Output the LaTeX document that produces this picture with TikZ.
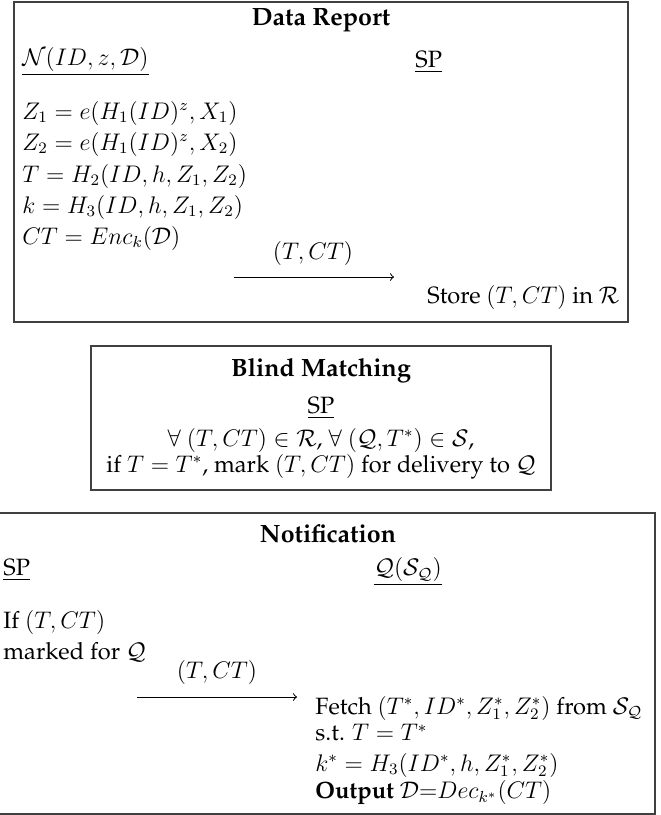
\documentclass[tikz,border=0pt]{standalone}
\usepackage{amsmath}
\usepackage{amssymb}
\usepackage[T1]{fontenc}
\renewcommand{\rmdefault}{ppl}
\usepackage{tikz}
\usetikzlibrary{positioning}
\tikzset{
    every node/.style={inner sep=0pt, font=\fontsize{11.8}{14}\selectfont},
    phase/.style={draw=black!75, line width=0.75pt},
    phasetitle/.style={font=\fontsize{12.5}{15}\selectfont\bfseries},
    msg/.style={->, line width=0.5pt}
}

\begin{document}
\begin{tikzpicture}[x=0.5pt, y=-0.5pt]
                \useasboundingbox (0, 0) rectangle (660, 815);
                \draw [phase] (14, 2) rectangle (628, 322);
                \node [phasetitle] (report) at (321, 20) {Data Report};
                \node [anchor=west] (node) at (22, 62) {$\underline{\mathcal{N}(ID, z, \mathcal{D})}$};
                \node [anchor=west] (sp1) at (415, 62) {\underline{SP}};
                \node [anchor=west] (z1) at (22, 113) {$Z_1 = e(H_1(ID)^z, X_1)$};
                \node [anchor=west] (z2) at (22, 144) {$Z_2 = e(H_1(ID)^z, X_2)$};
                \node [anchor=west] (tag) at (22, 176) {$T = H_2(ID, h, Z_1, Z_2)$};
                \node [anchor=west] (key) at (22, 207) {$k = H_3(ID, h, Z_1, Z_2)$};
                \node [anchor=west] (ct) at (22, 238) {$CT = Enc_k(\mathcal{D})$};
                \coordinate (up1) at (234, 277);
                \coordinate (up2) at (394, 277);
                \draw [msg] (up1) -- (up2);
                \node (uplabel) at (313, 253) {$(T, CT)$};
                \node [anchor=west] (store) at (427, 297) {Store $(T, CT)$ in $\mathcal{R}$};

                \draw [phase] (91, 346) rectangle (551, 490);
                \node [phasetitle] (match) at (321, 371) {Blind Matching};
                \node (sp2) at (321, 408) {\underline{SP}};
                \node (forall) at (321, 440) {$\forall\ (T, CT) \in \mathcal{R}$, $\forall\ (\mathcal{Q}, T^*) \in \mathcal{S}$,};
                \node (mark) at (321, 467) {if $T = T^*$, mark $(T, CT)$ for delivery to $\mathcal{Q}$};

                \draw [phase] (-10, 513) rectangle (655, 814);
                \node [phasetitle] (notify) at (328, 534) {Notification};
                \node [anchor=west] (sp3) at (3, 570) {\underline{SP}};
                \node [anchor=west] (querier) at (374, 572) {$\underline{\mathcal{Q}(\mathcal{S}_\mathcal{Q})}$};
                \node [anchor=west] (check) at (3, 622) {If $(T, CT)$};
                \node [anchor=west] (marked) at (3, 652) {marked for $\mathcal{Q}$};
                \coordinate (down1) at (137, 697);
                \coordinate (down2) at (297, 697);
                \draw [msg] (down1) -- (down2);
                \node (downlabel) at (217, 672) {$(T, CT)$};
                \node [anchor=west] (fetch) at (315, 708) {Fetch $(T^*, ID^*, Z_1^*, Z_2^*)$ from $\mathcal{S}_\mathcal{Q}$};
                \node [anchor=west] (st) at (315, 733) {s.t. $T = T^*$};
                \node [anchor=west] (newkey) at (315, 765) {$k^* = H_3(ID^*, h, Z_1^*, Z_2^*)$};
                \node [anchor=west] (output) at (315, 793) {\textbf{Output} $\mathcal{D}{=}Dec_{k^*}(CT)$};
            \end{tikzpicture}
\end{document}
